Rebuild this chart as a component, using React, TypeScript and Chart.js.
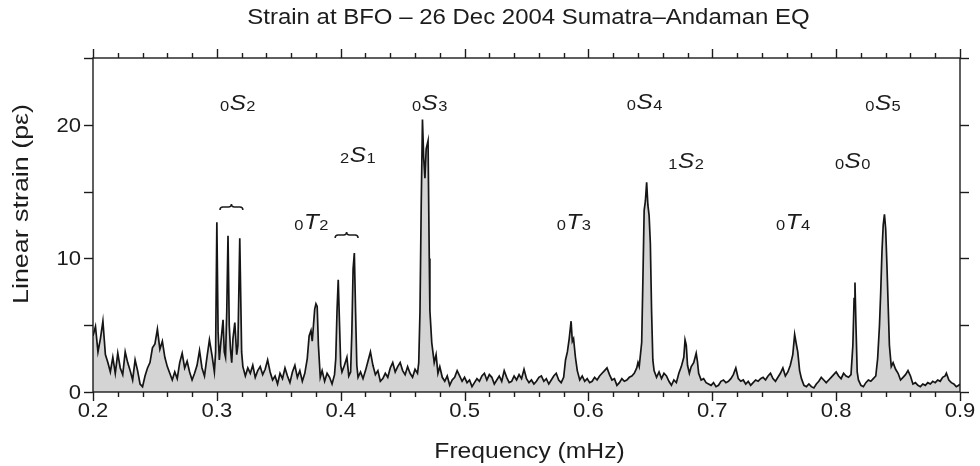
import React, { useEffect, useRef } from "react";
import { Chart, registerables } from "chart.js";
Chart.register(...registerables);

const titleText = "Strain at BFO \u2013 26 Dec 2004 Sumatra\u2013Andaman EQ";
const xAxisTitle = "Frequency (mHz)";
const yAxisTitle = "Linear strain (p\u03b5)";

const xTickValues = [0.2, 0.3, 0.4, 0.5, 0.6, 0.7, 0.8, 0.9];
const xTickLabels = ["0.2", "0.3", "0.4", "0.5", "0.6", "0.7", "0.8", "0.9"];
const yTickValues = [0, 10, 20];
const yTickLabels = ["0", "10", "20"];

const freq = [
  0.200, 0.202, 0.204, 0.206, 0.208, 0.210, 0.212, 0.214, 0.216, 0.218,
  0.220, 0.222, 0.224, 0.226, 0.228, 0.230, 0.232, 0.234, 0.236, 0.238,
  0.240, 0.242, 0.244, 0.246, 0.248, 0.250, 0.252, 0.254, 0.256, 0.258,
  0.260, 0.262, 0.264, 0.266, 0.268, 0.270, 0.272, 0.274, 0.276, 0.278,
  0.280, 0.282, 0.284, 0.286, 0.288, 0.290, 0.292, 0.294, 0.296, 0.298,
  0.299, 0.300, 0.301, 0.302, 0.303, 0.305, 0.306, 0.307, 0.308, 0.309,
  0.310, 0.311, 0.312, 0.313, 0.3145, 0.316, 0.317, 0.3185, 0.320, 0.321,
  0.323, 0.325, 0.327, 0.329, 0.331, 0.333, 0.335, 0.337, 0.339, 0.341,
  0.343, 0.345, 0.347, 0.349, 0.351, 0.353, 0.355, 0.357, 0.359, 0.361,
  0.363, 0.365, 0.367, 0.369, 0.371, 0.373, 0.3745, 0.376, 0.377, 0.378,
  0.379, 0.380, 0.381, 0.382, 0.3835, 0.385, 0.387, 0.389, 0.391, 0.393,
  0.395, 0.396, 0.397, 0.398, 0.399, 0.400, 0.401, 0.403, 0.405, 0.4065,
  0.408, 0.409, 0.410, 0.411, 0.412, 0.413, 0.414, 0.416, 0.418, 0.420,
  0.422, 0.424, 0.426, 0.428, 0.430, 0.432, 0.434, 0.436, 0.438, 0.440,
  0.442, 0.444, 0.446, 0.448, 0.450, 0.452, 0.454, 0.456, 0.458, 0.460,
  0.462, 0.463, 0.464, 0.465, 0.466, 0.467, 0.468, 0.469, 0.4705, 0.4715,
  0.472, 0.4735, 0.4755, 0.477, 0.4785, 0.480, 0.482, 0.484, 0.486, 0.488,
  0.490, 0.492, 0.494, 0.496, 0.498, 0.500, 0.502, 0.504, 0.506, 0.508,
  0.510, 0.512, 0.514, 0.516, 0.518, 0.520, 0.522, 0.524, 0.526, 0.528,
  0.530, 0.532, 0.534, 0.536, 0.538, 0.540, 0.542, 0.544, 0.546, 0.548,
  0.550, 0.552, 0.554, 0.556, 0.558, 0.560, 0.562, 0.564, 0.566, 0.568,
  0.570, 0.572, 0.574, 0.576, 0.578, 0.580, 0.5815, 0.583, 0.5845, 0.586,
  0.587, 0.588, 0.5895, 0.591, 0.593, 0.595, 0.597, 0.599, 0.601, 0.603,
  0.605, 0.607, 0.609, 0.611, 0.613, 0.615, 0.617, 0.619, 0.621, 0.623,
  0.625, 0.627, 0.629, 0.631, 0.633, 0.635, 0.637, 0.639, 0.640, 0.641,
  0.642, 0.643, 0.644, 0.645, 0.646, 0.647, 0.648, 0.649, 0.650, 0.651,
  0.652, 0.653, 0.655, 0.657, 0.659, 0.661, 0.663, 0.665, 0.667, 0.669,
  0.671, 0.673, 0.675, 0.677, 0.678, 0.679, 0.680, 0.6815, 0.683, 0.685,
  0.687, 0.688, 0.689, 0.691, 0.693, 0.695, 0.697, 0.699, 0.701, 0.703,
  0.705, 0.707, 0.709, 0.711, 0.713, 0.715, 0.717, 0.719, 0.721, 0.723,
  0.725, 0.727, 0.729, 0.731, 0.733, 0.735, 0.737, 0.739, 0.741, 0.743,
  0.745, 0.747, 0.749, 0.751, 0.753, 0.755, 0.757, 0.759, 0.761, 0.763,
  0.765, 0.7665, 0.768, 0.769, 0.7705, 0.772, 0.774, 0.776, 0.778, 0.780,
  0.782, 0.784, 0.786, 0.788, 0.790, 0.792, 0.794, 0.796, 0.798, 0.800,
  0.802, 0.804, 0.806, 0.808, 0.810, 0.812, 0.8135, 0.8145, 0.8152, 0.816,
  0.817, 0.818, 0.820, 0.822, 0.824, 0.826, 0.828, 0.830, 0.832, 0.8335,
  0.835, 0.836, 0.837, 0.838, 0.839, 0.840, 0.841, 0.842, 0.843, 0.8445,
  0.846, 0.848, 0.850, 0.852, 0.854, 0.856, 0.858, 0.860, 0.862, 0.864,
  0.866, 0.868, 0.870, 0.872, 0.874, 0.876, 0.878, 0.880, 0.882, 0.884,
  0.886, 0.888, 0.889, 0.891, 0.893, 0.895, 0.897, 0.899, 0.900,
];

const strain = [
  4.2, 4.9, 3.0, 4.0, 5.3, 2.8, 2.2, 1.5, 2.6, 1.4,
  2.9, 1.8, 1.3, 3.0, 2.2, 1.6, 0.9, 2.4, 1.6, 0.6,
  0.4, 1.2, 1.8, 2.2, 3.3, 3.6, 4.7, 3.2, 3.8, 2.6,
  1.9, 1.4, 0.9, 1.5, 1.0, 2.2, 2.9, 1.8, 2.3, 1.5,
  0.9, 1.4, 2.0, 3.1, 1.8, 1.2, 2.6, 3.9, 2.8, 1.5,
  3.0, 12.7, 4.5, 2.4, 3.5, 5.4, 3.0, 2.6, 6.0, 11.7,
  5.0, 3.2, 2.2, 4.0, 5.2, 2.8, 3.5, 11.5, 3.0, 1.9,
  1.2, 1.8, 1.4, 2.0, 1.1, 1.6, 1.9, 1.3, 1.7, 2.4,
  1.5, 0.9, 1.2, 0.6, 1.4, 1.0, 1.8, 1.2, 0.7, 1.5,
  2.0, 1.1, 1.6, 0.8, 1.4, 2.5, 4.2, 4.6, 3.8, 5.0,
  6.2, 6.6, 6.4, 3.5, 1.1, 1.6, 0.8, 1.4, 1.1, 0.6,
  1.3, 2.5, 6.0, 8.4, 5.2, 2.0, 1.5, 2.0, 2.6, 1.2,
  1.5, 4.5, 9.2, 10.4, 6.0, 2.0, 1.1, 1.5, 1.0, 1.6,
  2.3, 3.0, 2.0, 1.3, 1.6, 0.8, 1.0, 1.4, 1.1, 1.8,
  2.2, 1.5, 1.9, 2.2, 1.6, 1.3, 1.9, 1.4, 1.1, 1.7,
  1.4, 2.2, 6.0, 14.0, 20.4, 17.5, 16.0, 18.2, 18.8, 10.0,
  6.1, 3.7, 2.2, 2.8, 1.4, 1.9, 1.1, 0.8, 1.2, 0.5,
  0.9, 1.1, 1.6, 1.2, 0.8, 1.1, 0.7, 0.9, 0.4, 0.7,
  1.0, 0.8, 1.2, 1.4, 0.9, 1.3, 1.1, 0.6, 0.9, 1.2,
  0.8, 1.6, 1.1, 0.7, 0.8, 1.2, 0.9, 1.3, 1.0, 1.7,
  1.0, 0.7, 0.9, 0.6, 0.8, 1.1, 1.2, 0.8, 1.0, 0.6,
  0.9, 1.2, 1.4, 0.9, 0.7, 1.1, 2.4, 3.0, 4.0, 5.3,
  3.8, 4.0, 2.6, 1.6, 0.9, 1.2, 0.8, 1.0, 0.7, 0.8,
  1.1, 0.9, 1.2, 1.4, 1.6, 1.8, 1.3, 0.9, 1.0, 0.5,
  0.7, 1.0, 0.8, 0.9, 1.1, 1.2, 1.4, 1.8, 2.2, 1.9,
  2.8, 3.7, 8.5, 13.6, 14.3, 15.7, 14.0, 13.2, 11.1, 6.0,
  2.4, 1.6, 1.1, 1.5, 1.0, 1.4, 1.2, 0.8, 0.5, 0.9,
  0.7, 1.4, 1.9, 2.6, 3.9, 3.5, 2.0, 1.4, 1.9, 2.2,
  2.9, 2.3, 1.4, 0.9, 1.0, 0.7, 0.6, 0.5, 0.7, 0.4,
  0.5, 0.8, 0.9, 0.7, 0.8, 1.0, 1.3, 1.8, 1.0, 0.8,
  0.9, 0.6, 0.8, 0.5, 0.7, 0.9, 0.8, 1.0, 1.1, 0.9,
  1.2, 1.4, 1.0, 0.8, 1.1, 1.4, 1.8, 1.2, 1.5, 2.0,
  2.8, 4.3, 3.5, 3.0, 1.6, 1.0, 0.5, 0.4, 0.6, 0.4,
  0.3, 0.6, 0.8, 1.1, 0.9, 0.7, 0.9, 1.1, 1.3, 1.5,
  1.2, 1.0, 1.4, 1.2, 1.1, 1.3, 3.5, 7.0, 8.2, 5.0,
  1.5, 0.9, 0.5, 0.4, 0.7, 0.9, 0.8, 1.0, 1.2, 2.5,
  5.0, 7.5, 10.5, 12.5, 13.3, 12.2, 9.5, 6.5, 3.5, 1.9,
  2.2, 1.7, 1.4, 0.9, 1.1, 1.3, 1.6, 1.2, 0.6, 0.7,
  0.5, 0.4, 0.6, 0.5, 0.7, 0.6, 0.8, 0.7, 0.9, 0.8,
  1.1, 1.2, 1.4, 0.9, 0.7, 0.6, 0.4, 0.5, 0.6,
];

// Normal-mode labels: left subscript, letter, right subscript, anchor (frequency, strain baseline)
const modePre = ["0", "2", "0", "0", "0", "0", "1", "0", "0", "0"];
const modeMain = ["S", "S", "T", "S", "T", "S", "S", "T", "S", "S"];
const modeSub = ["2", "1", "2", "3", "3", "4", "2", "4", "0", "5"];
const modeFreq = [0.3025, 0.3995, 0.3625, 0.4575, 0.5745, 0.631, 0.6645, 0.7515, 0.799, 0.8235];
const modeLevel = [21.1, 17.2, 12.2, 21.1, 12.2, 21.2, 16.8, 12.2, 16.8, 21.1];

const braceStart = [0.3025, 0.3955];
const braceEnd = [0.321, 0.414];
const braceLevel = [13.85, 11.75];

const FONT = "'Liberation Sans', Arial, Helvetica, sans-serif";

function stretchedText(
  ctx: CanvasRenderingContext2D,
  text: string,
  x: number,
  y: number,
  sx: number,
  align: CanvasTextAlign
) {
  ctx.save();
  ctx.translate(x, y);
  ctx.scale(sx, 1);
  ctx.textAlign = align;
  ctx.fillText(text, 0, 0);
  ctx.restore();
}

const overlayPlugin = {
  id: "overlay",
  afterDraw(chart: any) {
    const ctx = chart.ctx as CanvasRenderingContext2D;
    const xs = chart.scales.x;
    const ys = chart.scales.y;
    const { left, right, top, bottom } = chart.chartArea;
    ctx.save();
    ctx.strokeStyle = "#1c1c1c";
    ctx.fillStyle = "#1c1c1c";
    ctx.lineWidth = 1.4;
    const seg = (x1: number, y1: number, x2: number, y2: number) => {
      ctx.beginPath();
      ctx.moveTo(x1, y1);
      ctx.lineTo(x2, y2);
      ctx.stroke();
    };
    // frame
    ctx.strokeRect(left, top, right - left, bottom - top);
    // x ticks (top and bottom), minor every 0.02
    for (let i = 0; i <= 35; i++) {
      const v = 0.2 + i * 0.02;
      const px = Math.round(xs.getPixelForValue(v)) + 0.5;
      const len = i % 5 === 0 ? 9 : 5;
      seg(px, bottom, px, bottom + len);
      seg(px, top, px, top - len);
    }
    // y ticks every 5
    for (let i = 0; i <= 5; i++) {
      const py = Math.round(ys.getPixelForValue(i * 5)) + 0.5;
      seg(left, py, left - 9, py);
      seg(right, py, right + 9, py);
    }
    // tick labels
    ctx.font = `21px ${FONT}`;
    ctx.textBaseline = "middle";
    xTickValues.forEach((v, i) => {
      stretchedText(ctx, xTickLabels[i], xs.getPixelForValue(v), bottom + 19, 1.05, "center");
    });
    yTickValues.forEach((v, i) => {
      stretchedText(ctx, yTickLabels[i], left - 12, ys.getPixelForValue(v) + 1, 1.05, "right");
    });
    // axis titles
    ctx.font = `22px ${FONT}`;
    stretchedText(ctx, xAxisTitle, (left + right) / 2 + 3, bottom + 60, 1.12, "center");
    ctx.save();
    ctx.translate(22, 204);
    ctx.rotate(-Math.PI / 2);
    ctx.font = `22px ${FONT}`;
    stretchedText(ctx, yAxisTitle, 0, 0, 1.22, "center");
    ctx.restore();
    // chart title
    ctx.font = `22px ${FONT}`;
    stretchedText(ctx, titleText, (left + right) / 2 + 2, 18, 1.09, "center");
    // mode labels
    ctx.textBaseline = "alphabetic";
    modeMain.forEach((m, i) => {
      let x = xs.getPixelForValue(modeFreq[i]);
      const y = ys.getPixelForValue(modeLevel[i]);
      ctx.font = `15px ${FONT}`;
      stretchedText(ctx, modePre[i], x, y + 1, 1.1, "left");
      x += ctx.measureText(modePre[i]).width * 1.1 + 0.5;
      ctx.font = `italic 22px ${FONT}`;
      stretchedText(ctx, m, x, y, 1.1, "left");
      x += ctx.measureText(m).width * 1.1 + 0.5;
      ctx.font = `15px ${FONT}`;
      stretchedText(ctx, modeSub[i], x, y + 1, 1.1, "left");
    });
    // braces
    ctx.lineWidth = 1.5;
    braceStart.forEach((f0, i) => {
      const x0 = xs.getPixelForValue(f0);
      const x1 = xs.getPixelForValue(braceEnd[i]);
      const y = ys.getPixelForValue(braceLevel[i]);
      const xm = (x0 + x1) / 2;
      ctx.beginPath();
      ctx.moveTo(x0, y + 3);
      ctx.quadraticCurveTo(x0, y, x0 + 3, y);
      ctx.lineTo(xm - 3, y);
      ctx.quadraticCurveTo(xm, y, xm, y - 3);
      ctx.quadraticCurveTo(xm, y, xm + 3, y);
      ctx.lineTo(x1 - 3, y);
      ctx.quadraticCurveTo(x1, y, x1, y + 3);
      ctx.stroke();
    });
    ctx.restore();
  },
};

export default function App() {
  const canvasRef = useRef<HTMLCanvasElement | null>(null);
  useEffect(() => {
    if (!canvasRef.current) return;
    const points = freq.map((f, i) => ({ x: f, y: strain[i] }));
    const chart = new Chart(canvasRef.current, {
      type: "line",
      data: {
        datasets: [
          {
            data: points,
            borderColor: "#151515",
            borderWidth: 1.7,
            backgroundColor: "#d4d4d4",
            fill: "origin",
            pointRadius: 0,
            tension: 0,
          },
        ],
      },
      options: {
        responsive: false,
        animation: false,
        devicePixelRatio: 1,
        layout: { padding: { left: 93, right: 20, top: 58, bottom: 74 } },
        plugins: { legend: { display: false }, title: { display: false }, tooltip: { enabled: false } },
        scales: {
          x: { type: "linear", min: 0.2, max: 0.9, display: false },
          y: { type: "linear", min: 0, max: 25, display: false },
        },
      },
      plugins: [overlayPlugin],
    });
    return () => chart.destroy();
  }, []);
  return (
    <div style={{ position: "absolute", left: 0, top: 0, width: 980, height: 466, background: "#fff" }}>
      <canvas ref={canvasRef} width={980} height={466} />
    </div>
  );
}
